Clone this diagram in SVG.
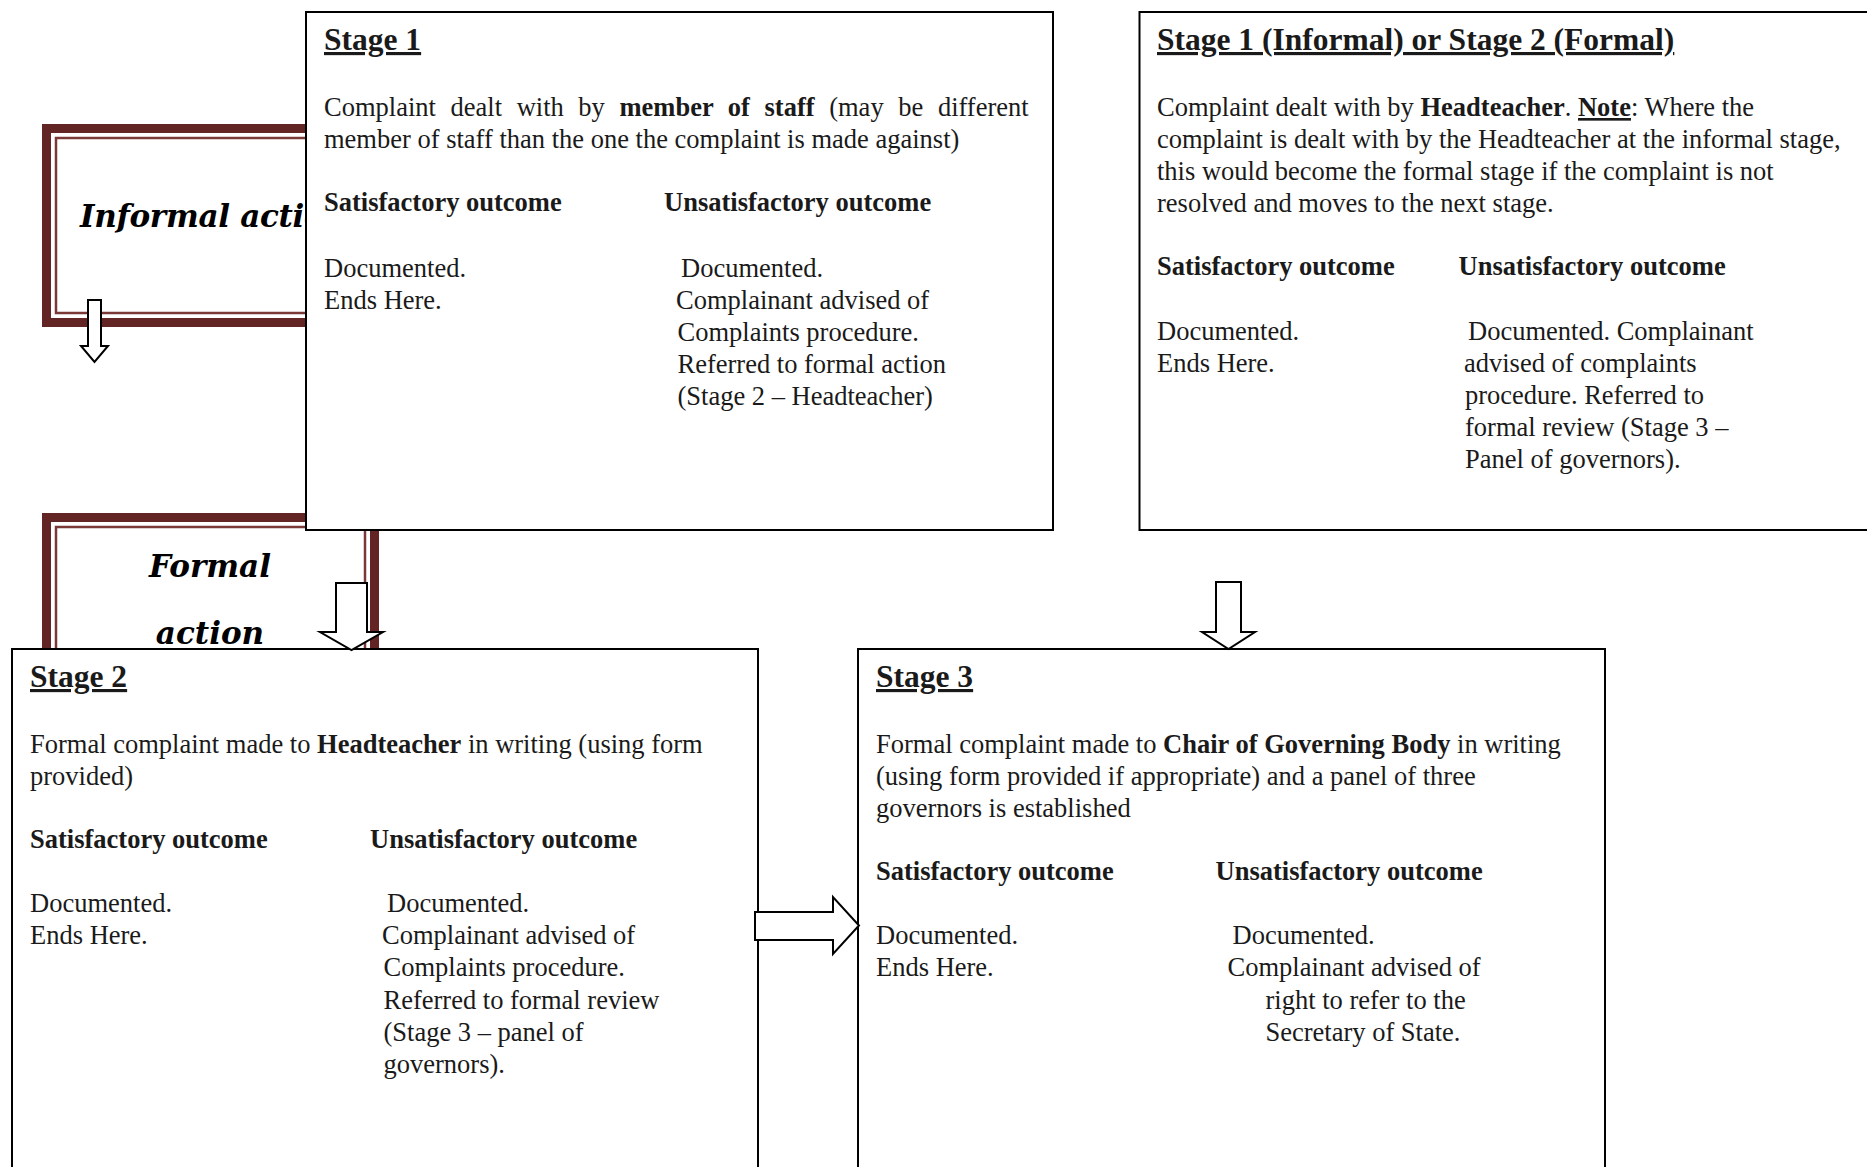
<svg xmlns="http://www.w3.org/2000/svg" width="1867" height="1167" viewBox="0 0 1867 1167">
<style>
.bg{fill:#fff}
.box{fill:#fff;stroke:#000;stroke-width:2}
.frO{fill:#fff;stroke:#632523;stroke-width:9}
.frI{fill:none;stroke:#7a3836;stroke-width:2.5}
.t{font-family:"Liberation Serif","Times New Roman",serif;font-size:26.5px;fill:#1a1a1a}
.bd{font-weight:bold}
.h{font-family:"Liberation Serif","Times New Roman",serif;font-size:31.5px;font-weight:bold;fill:#1a1a1a;text-decoration:underline}
.act{font-family:"DejaVu Serif",serif;font-style:italic;font-weight:bold;font-size:31px;fill:#000}
.arr{fill:#fff;stroke:#000;stroke-width:2;stroke-linejoin:miter}
</style>
<rect class="bg" x="0" y="0" width="1867" height="1167"/>

<g id="informal-action">
<rect class="frO" x="46.5" y="128.5" width="300" height="194"/>
<rect class="frI" x="56" y="138" width="281" height="175"/>
<text class="act" x="80" y="227" letter-spacing="-0.3">Informal action</text>
</g>

<g id="formal-action">
<rect class="frO" x="46.5" y="517.5" width="328" height="200"/>
<rect class="frI" x="56" y="527" width="309" height="181"/>
<text class="act" x="210" y="577" text-anchor="middle">Formal</text>
<text class="act" x="210" y="644" text-anchor="middle">action</text>
</g>

<g id="stage1">
<rect class="box" x="306" y="12" width="747" height="518"/>
<text class="h" x="324" y="50">Stage 1</text>
<text class="t" x="324" y="116" word-spacing="8">Complaint dealt with by <tspan class="bd">member of staff</tspan> (may be different</text>
<text class="t" x="324" y="148">member of staff than the one the complaint is made against)</text>
<text class="t bd" x="324" y="211">Satisfactory outcome</text>
<text class="t bd" x="664" y="211">Unsatisfactory outcome</text>
<text class="t" x="324" y="276.5">Documented.</text>
<text class="t" x="324" y="308.5">Ends Here.</text>
<text class="t" x="681" y="276.5">Documented.</text>
<text class="t" x="676" y="308.5">Complainant advised of</text>
<text class="t" x="677.5" y="340.5">Complaints procedure.</text>
<text class="t" x="677.5" y="372.5">Referred to formal action</text>
<text class="t" x="677.5" y="404.5">(Stage 2 – Headteacher)</text>
</g>

<g id="stage1-or-2">
<rect class="box" x="1139.5" y="12" width="760" height="518"/>
<text class="h" x="1157" y="50">Stage 1 (Informal) or Stage 2 (Formal)</text>
<text class="t" x="1157" y="116">Complaint dealt with by <tspan class="bd">Headteacher</tspan>. <tspan class="bd" text-decoration="underline">Note</tspan>: Where the</text>
<text class="t" x="1157" y="148">complaint is dealt with by the Headteacher at the informal stage,</text>
<text class="t" x="1157" y="180">this would become the formal stage if the complaint is not</text>
<text class="t" x="1157" y="212">resolved and moves to the next stage.</text>
<text class="t bd" x="1157" y="275">Satisfactory outcome</text>
<text class="t bd" x="1458.5" y="275">Unsatisfactory outcome</text>
<text class="t" x="1157" y="339.5">Documented.</text>
<text class="t" x="1157" y="371.5">Ends Here.</text>
<text class="t" x="1468" y="339.5">Documented. Complainant</text>
<text class="t" x="1464" y="371.5">advised of complaints</text>
<text class="t" x="1465" y="403.5">procedure. Referred to</text>
<text class="t" x="1465" y="435.5">formal review  (Stage 3 –</text>
<text class="t" x="1465" y="467.5">Panel of governors).</text>
</g>

<g id="stage2">
<rect class="box" x="12" y="649" width="746" height="540"/>
<text class="h" x="30" y="687">Stage 2</text>
<text class="t" x="30" y="752.5">Formal complaint made to <tspan class="bd">Headteacher</tspan> in writing (using form</text>
<text class="t" x="30" y="784.5">provided)</text>
<text class="t bd" x="30" y="848">Satisfactory outcome</text>
<text class="t bd" x="370" y="848">Unsatisfactory outcome</text>
<text class="t" x="30" y="912">Documented.</text>
<text class="t" x="30" y="944">Ends Here.</text>
<text class="t" x="387" y="912">Documented.</text>
<text class="t" x="382" y="944">Complainant advised of</text>
<text class="t" x="383.5" y="976">Complaints procedure.</text>
<text class="t" x="383.5" y="1008.5">Referred to formal review</text>
<text class="t" x="383.5" y="1040.5">(Stage 3 – panel of</text>
<text class="t" x="383.5" y="1072.5">governors).</text>
</g>

<g id="stage3">
<rect class="box" x="858" y="649" width="747" height="540"/>
<text class="h" x="876" y="687">Stage 3</text>
<text class="t" x="876" y="752.5">Formal complaint made to <tspan class="bd">Chair of Governing Body</tspan> in writing</text>
<text class="t" x="876" y="784.5">(using form provided if appropriate) and a panel of three</text>
<text class="t" x="876" y="816.5">governors is established</text>
<text class="t bd" x="876" y="880">Satisfactory outcome</text>
<text class="t bd" x="1215.5" y="880">Unsatisfactory outcome</text>
<text class="t" x="876" y="944">Documented.</text>
<text class="t" x="876" y="976">Ends Here.</text>
<text class="t" x="1232.5" y="944">Documented.</text>
<text class="t" x="1227.5" y="976">Complainant advised of</text>
<text class="t" x="1265.5" y="1008.5">right to refer to the</text>
<text class="t" x="1265.5" y="1040.5">Secretary of State.</text>
</g>

<g id="connectors">
<polygon class="arr" points="88,300 101,300 101,346 108,346 94.5,362 81,346 88,346"/>
<polygon class="arr" points="336,583 367,583 367,632 383,632 351.5,650 320,632 336,632"/>
<polygon class="arr" points="1216,582 1241,582 1241,632 1255,632 1228.5,649 1202,632 1216,632"/>
<polygon class="arr" points="755,912 833,912 833,897 859,925.5 833,954 833,940 755,940"/>
</g>
</svg>
